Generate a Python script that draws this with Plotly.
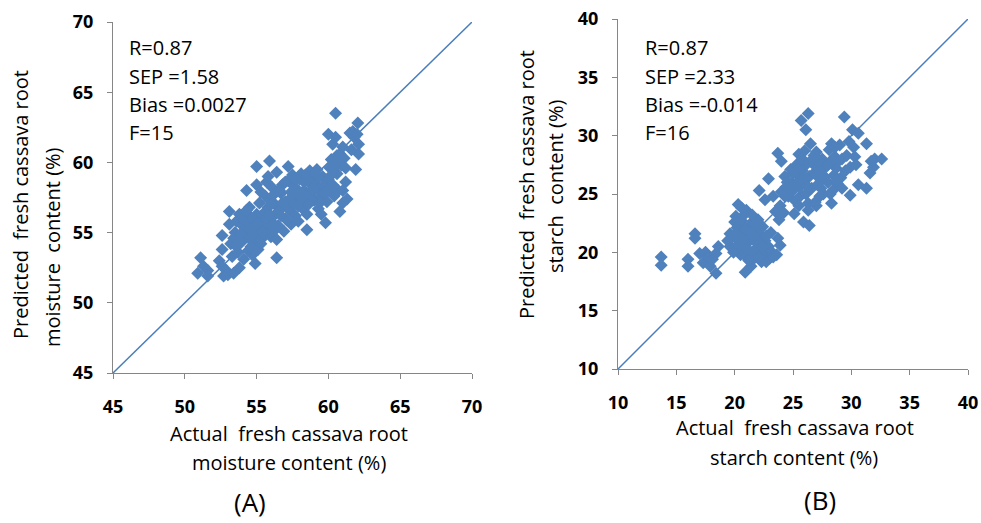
import plotly.graph_objects as go

# ---------------- data ----------------
# Panel A: moisture content (actual, predicted)
moist_actual = [
    50.9, 51.1, 51.3, 51.6, 51.6,
    52.4, 52.6, 52.6, 52.7, 52.9, 52.6, 53.0,
    53.1, 53.1, 53.4, 53.3, 53.2, 53.5, 53.4, 53.6, 53.8, 53.7, 53.6,
    54.0, 54.0, 54.1, 54.2, 54.3, 54.3, 54.4, 54.5, 54.5, 54.6, 54.7, 54.8, 54.8, 54.9, 54.9, 55.0, 55.0, 55.0, 55.0,
    55.2, 55.3, 55.4, 55.5, 55.6, 55.7, 55.7, 55.9, 55.8, 55.9, 56.0, 56.0, 56.1, 56.2, 56.3, 56.4, 56.4, 56.4, 56.5, 56.6, 56.7, 56.8, 56.9, 57.0, 57.0,
    57.2, 57.2, 57.3, 57.4, 57.5, 57.6, 57.7, 57.8, 57.9, 58.0, 58.0, 58.1, 58.2, 58.3, 58.4, 58.5, 58.5, 58.6, 58.7, 58.8, 58.9, 59.0, 59.1, 59.2, 59.3,
    59.4, 59.5, 59.5, 59.6, 59.7, 59.8, 59.9, 60.0, 60.0, 60.1, 60.2, 60.3, 60.3, 60.4, 60.5, 60.5, 60.5, 60.6, 60.7, 60.8, 60.8, 60.9, 61.0, 61.0, 61.0, 61.1, 61.2, 61.2, 61.3,
    61.5, 61.7, 61.8, 61.9, 62.0, 62.05, 62.1, 62.1, 61.6,
    54.2, 54.6, 55.2, 55.5, 55.8, 56.1, 56.3, 56.8, 57.1, 57.3, 57.6, 58.0, 58.3, 58.7, 59.0, 59.3, 54.4, 53.9, 53.8, 55.1, 55.3, 56.6, 57.5,
    53.8, 54.1, 54.6, 54.7, 55.0, 55.3, 55.6, 55.9, 56.0, 56.2, 56.5, 56.7, 57.0, 57.1, 57.4,
    57.7, 57.9, 58.2, 58.4, 58.6, 58.9, 59.1, 59.4, 59.7, 60.0, 60.2, 60.6, 60.4, 55.8, 54.3,
]
moist_pred = [
    52.1, 53.2, 52.6, 52.3, 51.9,
    53.0, 53.8, 54.8, 51.9, 52.3, 52.6, 52.0,
    56.5, 55.6, 52.1, 53.3, 54.2, 55.0, 54.6, 55.8, 52.5, 53.6, 54.0,
    55.5, 54.4, 53.1, 56.2, 58.0, 55.0, 53.7, 54.6, 56.8, 55.8, 53.4, 54.2, 53.7, 52.8, 55.3, 59.7, 58.4, 56.3, 54.8,
    57.1, 55.6, 54.6, 56.4, 57.6, 58.6, 55.2, 60.1, 56.8, 57.3, 55.8, 54.7, 58.2, 56.2, 57.0, 59.3, 53.2, 54.5, 55.5, 56.6, 57.8, 58.4, 55.1, 56.0, 57.2,
    59.7, 58.7, 56.6, 55.6, 57.8, 58.3, 56.2, 57.4, 55.8, 58.8, 57.0, 59.2, 56.7, 58.0, 57.5, 55.2, 56.3, 58.6, 59.4, 57.8, 58.9, 57.3, 58.4, 59.5, 56.7,
    58.0, 56.3, 57.6, 59.0, 58.4, 55.7, 57.2, 58.8, 62.0, 59.6, 60.2, 61.3, 58.4, 57.6, 63.5, 61.8, 60.0, 59.2, 58.0, 56.5, 60.6, 59.8, 61.1, 58.0, 57.1, 60.3, 58.6, 59.6, 57.4,
    62.1, 62.2, 61.8, 59.5, 62.0, 62.8, 61.3, 60.6, 60.9,
    54.9, 54.0, 55.9, 55.0, 55.7, 57.6, 55.2, 57.1, 56.9, 57.4, 57.0, 57.9, 58.6, 57.2, 58.0, 58.9, 55.4, 54.9, 56.3, 53.8, 57.9, 58.0, 59.1,
    54.4, 55.9, 56.1, 55.1, 55.6, 54.2, 56.0, 56.3, 57.0, 55.5, 58.0, 56.2, 58.6, 55.9, 57.9,
    58.8, 56.9, 57.4, 59.1, 57.0, 58.1, 59.2, 57.1, 57.8, 58.0, 59.1, 60.5, 59.6, 59.0, 56.6,
]

# Panel B: starch content (actual, predicted)
starch_actual = [
    13.7, 13.7, 16.0, 16.0, 16.6, 16.6, 17.0, 17.3, 17.5, 17.7, 17.9, 18.1, 18.4, 18.6, 18.4, 19.6, 19.6, 19.4,
    19.8, 20.0, 20.2, 20.3, 20.1, 20.4, 20.5, 20.6, 20.7, 20.8, 20.9, 20.9, 21.0, 21.1, 21.2, 21.3, 21.4, 21.4, 21.5, 21.6,
    21.7, 21.8, 21.9, 22.0, 22.0, 22.1, 22.2, 22.3, 22.4, 22.5, 22.6, 22.7, 22.8, 22.9, 23.0, 23.1, 23.2, 23.3, 23.6, 23.7,
    23.9, 21.0, 20.6, 21.5,
    22.1, 22.9, 22.6, 23.3, 23.5, 23.8, 23.9, 24.0, 24.2, 23.7, 24.0, 24.3, 24.4, 24.6, 24.8, 24.9, 25.0, 25.1, 25.2, 25.3,
    25.4, 25.5, 25.6, 25.7, 25.7, 25.8, 25.9, 25.9, 26.0, 26.1, 26.1, 26.2, 26.3, 26.3, 26.4, 26.4, 26.5, 26.6, 26.7, 26.8,
    26.9, 26.9, 27.0, 27.1, 27.2, 27.3, 27.4, 27.5, 27.6, 27.8, 28.0, 28.1, 28.2, 28.3, 28.3, 28.4, 28.5, 28.6, 28.7, 28.8,
    28.9, 29.0, 29.1, 29.2, 29.4, 29.5, 29.6, 29.8, 29.9, 29.9, 30.1, 30.2, 30.3, 30.4, 30.6, 30.6, 31.3, 31.3, 31.6, 31.9,
    32.0, 32.6, 31.7,
    24.5, 24.7, 25.0, 25.3, 25.6, 25.8, 26.0, 26.2, 26.5, 26.8, 27.0, 27.2, 27.4, 27.7, 28.0, 28.2, 28.4, 28.6, 28.8, 29.2,
    27.0, 25.5, 24.3, 26.3,
    20.3, 20.6, 20.9, 21.2, 21.5, 21.8, 22.1, 22.4, 22.7, 21.0, 20.0, 19.9,
]
starch_pred = [
    19.6, 18.9, 19.4, 18.8, 21.6, 21.2, 19.9, 19.1, 20.0, 19.6, 18.8, 19.4, 18.2, 20.5, 19.9, 21.6, 20.5, 21.0,
    21.3, 20.4, 22.1, 24.1, 23.1, 21.0, 19.8, 22.7, 20.3, 21.6, 18.3, 23.3, 19.6, 20.8, 22.2, 21.3, 18.8, 20.0, 22.6, 19.4,
    21.0, 20.3, 21.9, 22.8, 19.9, 20.7, 21.5, 19.2, 22.2, 20.1, 21.0, 19.2, 19.8, 20.5, 19.5, 21.7, 20.0, 19.6, 19.8, 21.2,
    20.6, 23.6, 23.8, 23.2,
    25.3, 26.3, 24.5, 24.8, 23.5, 22.8, 24.0, 25.2, 23.4, 28.5, 27.8, 26.5, 25.6, 24.8, 27.1, 26.0, 25.3, 23.3, 24.4, 27.5,
    26.6, 28.4, 25.6, 31.3, 24.9, 27.0, 22.6, 26.1, 28.7, 30.5, 25.0, 27.6, 31.9, 24.2, 22.3, 26.5, 29.3, 25.5, 28.0, 26.8,
    24.3, 27.4, 28.6, 25.8, 27.0, 24.8, 26.2, 28.0, 25.0, 27.3, 26.0, 28.8, 27.7, 29.3, 24.2, 25.3, 26.6, 28.2, 27.2, 25.9,
    27.8, 29.2, 26.4, 25.5, 31.6, 27.0, 28.3, 29.5, 24.9, 27.3, 30.5, 29.0, 28.2, 27.5, 30.2, 25.8, 29.3, 25.5, 26.8, 27.3,
    28.0, 28.0, 27.8,
    26.0, 25.5, 26.8, 25.9, 27.2, 28.0, 26.4, 25.7, 27.8, 28.3, 26.6, 27.8, 25.5, 26.5, 27.5, 25.0, 28.0, 29.0, 26.2, 28.0,
    24.0, 24.0, 24.8, 23.6,
    21.8, 21.2, 22.0, 19.3, 21.6, 22.4, 19.6, 20.5, 21.4, 20.3, 22.6, 20.0,
]

moist_range = [45, 70]
starch_range = [10, 40]
stats_A = ["R=0.87", "SEP =1.58", "Bias =0.0027", "F=15"]
stats_B = ["R=0.87", "SEP =2.33", "Bias =-0.014", "F=16"]

# ---------------- figure ----------------
W, H = 981, 523
BLUE = "#4F81BD"
LINE = "#4A7EBB"
AXC = "#868686"
FONT = "Open Sans"

def px(x):
    return x / W

def py(y):
    return 1 - y / H

fig = go.Figure()

fig.add_trace(go.Scatter(x=moist_range, y=moist_range, mode="lines",
                         line=dict(color=LINE, width=1.5), xaxis="x", yaxis="y",
                         hoverinfo="skip"))
fig.add_trace(go.Scatter(x=moist_actual, y=moist_pred, mode="markers",
                         marker=dict(symbol="diamond", size=10, color=BLUE, line=dict(width=0)),
                         xaxis="x", yaxis="y"))
fig.add_trace(go.Scatter(x=starch_range, y=starch_range, mode="lines",
                         line=dict(color=LINE, width=1.5), xaxis="x2", yaxis="y2",
                         hoverinfo="skip"))
fig.add_trace(go.Scatter(x=starch_actual, y=starch_pred, mode="markers",
                         marker=dict(symbol="diamond", size=10, color=BLUE, line=dict(width=0)),
                         xaxis="x2", yaxis="y2"))

axis_common = dict(showgrid=False, zeroline=False, showline=True, linecolor=AXC,
                   linewidth=1, ticks="outside", ticklen=5, tickcolor=AXC, dtick=5,
                   automargin=False, ticklabeloverflow="allow",
                   tickfont=dict(family=FONT, size=18, color="black", weight="bold"))

fig.update_layout(
    width=W, height=H,
    margin=dict(l=0, r=0, t=0, b=0, autoexpand=False),
    paper_bgcolor="white", plot_bgcolor="white",
    showlegend=False,
    xaxis=dict(domain=[px(113), px(472)], range=moist_range, anchor="y",
               ticklabelstandoff=12, **axis_common),
    yaxis=dict(domain=[py(373), py(22)], range=moist_range, anchor="x",
               ticklabelstandoff=10, **axis_common),
    xaxis2=dict(domain=[px(618), px(968)], range=starch_range, anchor="y2",
                ticklabelstandoff=12, **axis_common),
    yaxis2=dict(domain=[py(369), py(19)], range=starch_range, anchor="x2",
                ticklabelstandoff=10, **axis_common),
)

ann = []
def add_text(text, x, y, size=20, xanchor="left", angle=0):
    ann.append(dict(text=text, x=px(x), y=py(y), xref="paper", yref="paper",
                    xanchor=xanchor, yanchor="middle", showarrow=False, textangle=angle,
                    font=dict(family=FONT, size=size, color="black")))

for i, s in enumerate(stats_A):
    add_text(s, 127, 48 + i * 28)
for i, s in enumerate(stats_B):
    add_text(s, 643, 48 + i * 28)

add_text("Actual\u00a0 fresh cassava root", 289, 433, xanchor="center")
add_text("moisture content (%)", 289, 462, xanchor="center")
add_text("Actual\u00a0 fresh cassava root", 795, 427, xanchor="center")
add_text("starch content (%)", 794, 457, xanchor="center")

add_text("Predicted\u00a0 fresh cassava root", 20, 205, xanchor="center", angle=-90)
add_text("moisture\u00a0 content (%)", 52, 247, xanchor="center", angle=-90)
add_text("Predicted\u00a0 fresh cassava root", 527, 185, xanchor="center", angle=-90)
add_text("starch\u00a0 content (%)", 556, 187, xanchor="center", angle=-90)

add_text("(A)", 250, 502, size=26, xanchor="center")
add_text("(B)", 820, 500, size=26, xanchor="center")

fig.update_layout(annotations=ann)

fig.write_html("out.html",
               config={"displayModeBar": False},
               post_script="document.body.style.margin='0';document.body.style.padding='0';")
